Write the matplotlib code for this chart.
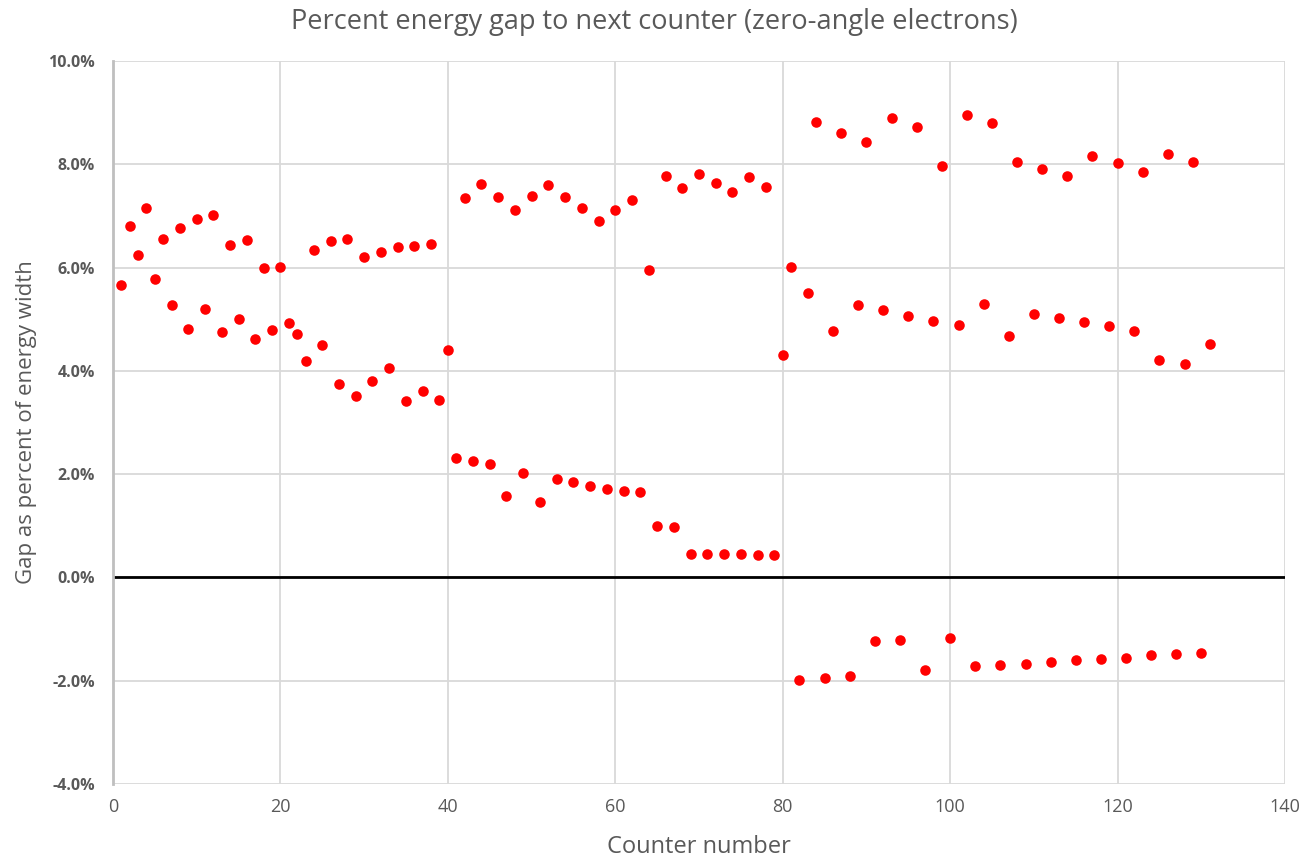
import matplotlib.pyplot as plt
from matplotlib.ticker import FuncFormatter

# Counter numbers and gap (% of energy width)
counter = list(range(1, 132))
gap_pct = [
    5.67, 6.80, 6.25, 7.15, 5.77, 6.56, 5.27, 6.76, 4.82, 6.95,
    5.19, 7.01, 4.76, 6.43, 5.00, 6.53, 4.61, 6.00, 4.80, 6.02,
    4.92, 4.72, 4.20, 6.35, 4.51, 6.51, 3.74, 6.56, 3.52, 6.20,
    3.81, 6.31, 4.05, 6.39, 3.41, 6.41, 3.62, 6.45, 3.43, 4.40,
    2.32, 7.34, 2.25, 7.61, 2.19, 7.36, 1.57, 7.11, 2.03, 7.38,
    1.47, 7.59, 1.90, 7.36, 1.84, 7.15, 1.78, 6.91, 1.72, 7.11,
    1.68, 7.30, 1.65, 5.96, 0.99, 7.77, 0.97, 7.55, 0.46, 7.82,
    0.45, 7.63, 0.45, 7.47, 0.45, 7.75, 0.43, 7.57, 0.43, 4.30,
    6.02, -1.98, 5.50, 8.81, -1.94, 4.78, 8.60, -1.90, 5.27, 8.44,
    -1.24, 5.17, 8.89, -1.22, 5.07, 8.73, -1.80, 4.96, 7.96, -1.18,
    4.88, 8.95, -1.72, 5.29, 8.79, -1.70, 4.67, 8.04, -1.67, 5.11,
    7.90, -1.63, 5.02, 7.78, -1.59, 4.94, 8.17, -1.57, 4.86, 8.02,
    -1.55, 4.78, 7.86, -1.51, 4.22, 8.19, -1.49, 4.14, 8.04, -1.47,
    4.53,
]

x_ticks = [0, 20, 40, 60, 80, 100, 120, 140]
y_ticks = [-4, -2, 0, 2, 4, 6, 8, 10]

plt.rcParams['font.family'] = ['Open Sans', 'DejaVu Sans']
text_col = '#595959'

fig = plt.figure(figsize=(13.09, 8.58), dpi=100)
ax = fig.add_axes([0.0863, 0.0862, 0.8954, 0.8427])

ax.plot(counter, gap_pct, linestyle='none', marker='o', ms=7.6,
        color='#ff0000', markeredgewidth=0, zorder=3)

ax.set_xlim(0, 140)
ax.set_ylim(-4, 10)
ax.set_xticks(x_ticks)
ax.set_yticks(y_ticks)
ax.yaxis.set_major_formatter(FuncFormatter(lambda v, p: f'{v:.1f}%'))

ax.grid(True, color='#d9d9d9', linewidth=1.3, zorder=0)
ax.axhline(0, color='black', linewidth=2, zorder=2)

for s in ['top', 'right', 'bottom']:
    ax.spines[s].set_visible(False)
ax.spines['left'].set_color('#bfbfbf')
ax.spines['left'].set_linewidth(2)

ax.tick_params(length=0)
ax.tick_params(axis='y', labelsize=11.5, labelcolor=text_col, pad=13)
ax.tick_params(axis='x', labelsize=13, labelcolor=text_col, pad=10)
for lbl in ax.get_yticklabels():
    lbl.set_fontweight('bold')

# title is centred on the figure, not on the axes
fig.text(0.5, 0.974, 'Percent energy gap to next counter (zero-angle electrons)',
         fontsize=19.5, color=text_col, ha='center', va='center')
ax.set_xlabel('Counter number', fontsize=17, color=text_col, labelpad=14)
ax.set_ylabel('Gap as percent of energy width', fontsize=16, color=text_col, labelpad=8)

fig.savefig('out.png', dpi=100)
